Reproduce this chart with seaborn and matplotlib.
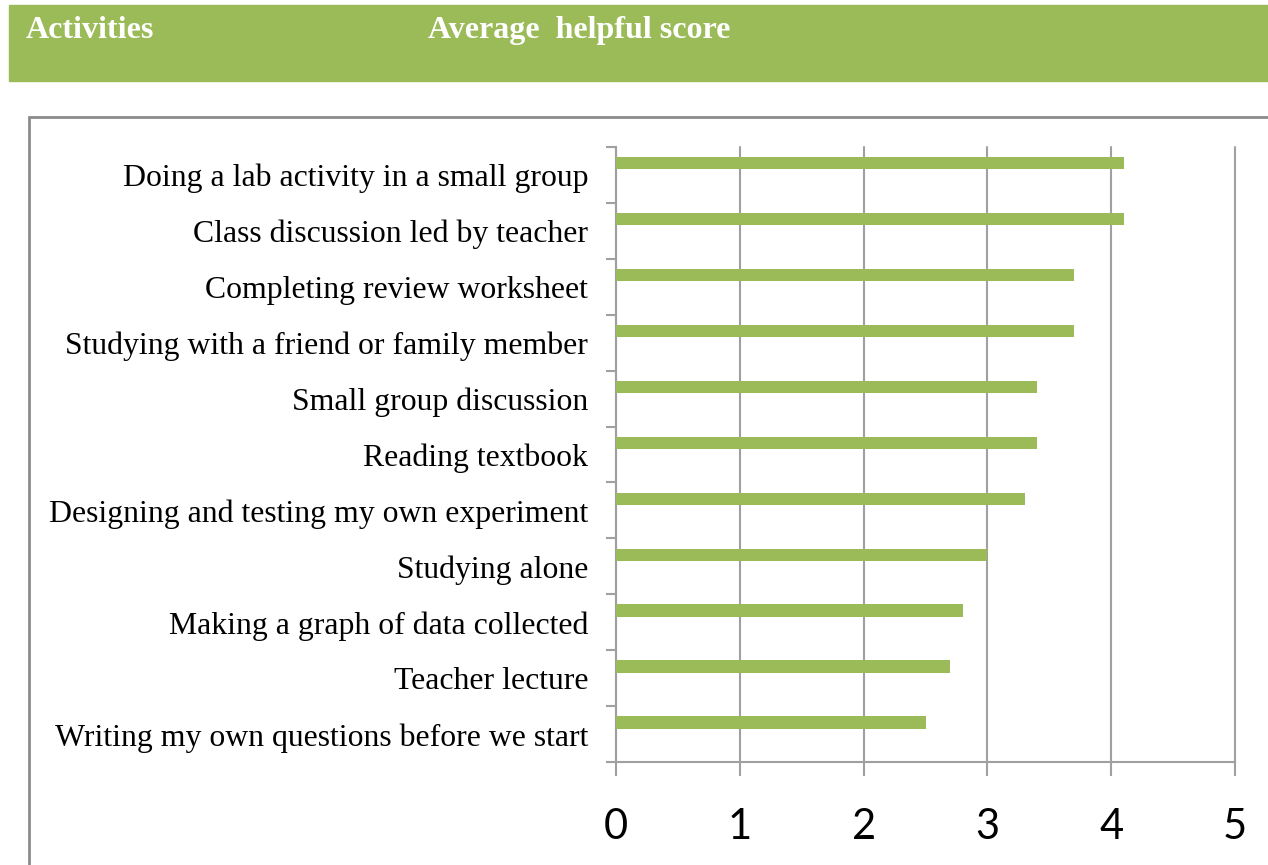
import seaborn as sns
import numpy as np
import pandas as pd
import matplotlib.pyplot as plt
from matplotlib.patches import Rectangle
from matplotlib.ticker import FixedLocator

# donnees
activities = [
    "Doing a lab activity in a small group",
    "Class discussion led by teacher",
    "Completing review worksheet",
    "Studying with a friend or family member",
    "Small group discussion",
    "Reading textbook",
    "Designing and testing my own experiment",
    "Studying alone",
    "Making a graph of data collected",
    "Teacher lecture",
    "Writing my own questions before we start",
]
scores = [4.1, 4.1, 3.7, 3.7, 3.4, 3.4, 3.3, 3.0, 2.8, 2.7, 2.5]
x_ticks = [0, 1, 2, 3, 4, 5]
header_labels = ["Activities", "Average  helpful score"]

green = "#9BBB59"
grey = "#A0A0A0"

sns.set_style("white")
plt.rcParams['font.family'] = ['Liberation Serif', 'DejaVu Serif']
plt.rcParams['text.color'] = 'black'

df = pd.DataFrame({"activity": activities, "score": scores})

fig = plt.figure(figsize=(12.68, 8.65), dpi=100)

# bandeau vert en haut
fig.patches.append(Rectangle((9 / 1268, 1 - 81 / 865), 1, 76 / 865,
                             transform=fig.transFigure, color=green, zorder=0))
fig.text(26 / 1268, 1 - 38 / 865, header_labels[0], color="white",
         fontsize=23, fontweight="bold", va="baseline", ha="left")
fig.text(428 / 1268, 1 - 38 / 865, header_labels[1], color="white",
         fontsize=23, fontweight="bold", va="baseline", ha="left")

# cadre gris
fig.patches.append(Rectangle((29 / 1268, -0.1), 1, 1.1 - 117 / 865,
                             transform=fig.transFigure, fill=False,
                             edgecolor="#8C8C8C", lw=2, zorder=0))

ax = fig.add_axes([616 / 1268, 102.7 / 865, 619 / 1268, 615.6 / 865])
sns.barplot(data=df, x="score", y="activity", orient="h", color=green,
            saturation=1, width=0.22, ax=ax, zorder=3)

# barres decalees vers le haut comme dans Excel
for p in ax.patches:
    p.set_y(p.get_y() - 0.21)
    p.set_edgecolor("none")

ax.set_xlim(0, 5)
ax.set_ylim(len(activities) - 0.5, -0.5)
ax.set_xticks(x_ticks)
ax.set_xlabel("")
ax.set_ylabel("")

ax.grid(axis="x", color=grey, lw=1.5, zorder=0)
ax.grid(axis="y", visible=False)
for line in ax.get_xgridlines():
    line.set_clip_on(False)
for s in ["top", "right"]:
    ax.spines[s].set_visible(False)
for s in ["left", "bottom"]:
    ax.spines[s].set_color(grey)
    ax.spines[s].set_linewidth(1.5)

ax.yaxis.set_minor_locator(FixedLocator(np.arange(-0.5, len(activities), 1.0)))
ax.tick_params(axis="y", which="major", length=0, pad=20, labelsize=22.9,
               labelcolor="black")
ax.tick_params(axis="y", which="minor", length=7.2, width=1.5, color=grey, left=True)
ax.tick_params(axis="x", which="major", length=10, width=1.5, color=grey,
               direction="out", pad=23, labelsize=30, bottom=True,
               labelcolor="black")
for lab in ax.get_xticklabels():
    lab.set_family(["Lato", "DejaVu Sans"])

fig.savefig("out.png", dpi=100)
